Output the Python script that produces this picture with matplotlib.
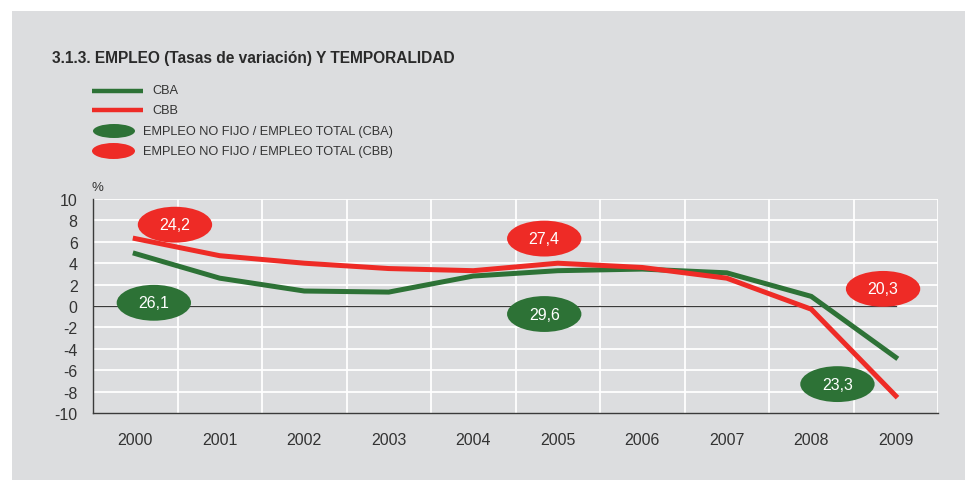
import matplotlib.pyplot as plt
from matplotlib.patches import Ellipse, Rectangle
from matplotlib.lines import Line2D

plt.rcParams['font.family'] = ['Liberation Sans', 'DejaVu Sans']

# Data
years = ['2000', '2001', '2002', '2003', '2004', '2005', '2006', '2007', '2008', '2009']
cba = [4.9, 2.6, 1.4, 1.3, 2.8, 3.3, 3.45, 3.1, 0.9, -4.8]
cbb = [6.3, 4.7, 4.0, 3.5, 3.3, 4.0, 3.6, 2.6, -0.3, -8.4]
# temporality ratios (empleo no fijo / empleo total)
temp_labels = ['24,2', '26,1', '27,4', '29,6', '20,3', '23,3']
temp_series = ['CBB', 'CBA', 'CBB', 'CBA', 'CBB', 'CBA']
temp_x = [0.47, 0.22, 4.84, 4.84, 8.85, 8.31]
temp_y = [7.6, 0.3, 6.3, -0.75, 1.6, -7.3]

GREEN = '#2d7236'
RED = '#ee2b26'
BG = '#dcdddf'
TXT = '#333333'

W, H = 965, 481
fig = plt.figure(figsize=(W / 100, H / 100), dpi=100)
fig.patch.set_facecolor('white')

# overlay for panel + legend in pixel coords
ov = fig.add_axes([0, 0, 1, 1])
ov.set_xlim(0, W)
ov.set_ylim(H, 0)
ov.axis('off')
ov.add_patch(Rectangle((12, 12), W - 12, H - 12, facecolor=BG, edgecolor='none'))
ov.text(52, 59, '3.1.3. EMPLEO (Tasas de variación) Y TEMPORALIDAD', fontsize=11.2,
        fontweight='bold', color='#2a2a2a', va='center')
ov.add_line(Line2D([92, 143], [92, 92], color=GREEN, lw=3.2, solid_capstyle='butt'))
ov.add_line(Line2D([92, 143], [111, 111], color=RED, lw=3.2, solid_capstyle='butt'))
ov.text(152, 91, 'CBA', fontsize=9.2, color=TXT, va='center')
ov.text(152, 111, 'CBB', fontsize=9.2, color=TXT, va='center')
ov.add_patch(Ellipse((114, 132), 42, 14, facecolor=GREEN, edgecolor='none'))
ov.add_patch(Ellipse((113.5, 152), 43, 16, facecolor=RED, edgecolor='none'))
ov.text(143, 132, 'EMPLEO NO FIJO / EMPLEO TOTAL (CBA)', fontsize=9.2, color=TXT, va='center')
ov.text(143, 152, 'EMPLEO NO FIJO / EMPLEO TOTAL (CBB)', fontsize=9.2, color=TXT, va='center')
ov.text(91, 188, '%', fontsize=9.5, color=TXT, va='center')

# main chart
ax = fig.add_axes([93 / W, 1 - 414 / H, (938 - 93) / W, (414 - 200) / H])
ax.set_facecolor(BG)
x = list(range(len(years)))
ax.set_xlim(-0.5, len(years) - 0.5)
ax.set_ylim(-10, 10)
ax.set_yticks(range(-10, 11, 2))
ax.set_yticklabels([str(v) for v in range(-10, 11, 2)])
ax.set_xticks(x)
ax.set_xticklabels(years)
ax.grid(False)
for i in x:
    ax.axvline(i + 0.5, color='white', lw=1.3, zorder=0)
for v in range(-8, 11, 2):
    ax.axhline(v, color='white', lw=1.3, zorder=0)
ax.plot([-0.5, 9], [0, 0], color='#3a3a3a', lw=0.9, zorder=1)
ax.tick_params(axis='both', length=0, labelsize=11.5, labelcolor=TXT)
ax.tick_params(axis='x', pad=14)
ax.tick_params(axis='y', pad=11)
for s in ['top', 'right']:
    ax.spines[s].set_visible(False)
for s in ['left', 'bottom']:
    ax.spines[s].set_color('#3a3a3a')
    ax.spines[s].set_linewidth(1.0)

ax.plot(x, cba, color=GREEN, lw=3.6, zorder=3, solid_joinstyle='miter')
ax.plot(x, cbb, color=RED, lw=3.6, zorder=3, solid_joinstyle='miter')

for lab, ser, ex, ey in zip(temp_labels, temp_series, temp_x, temp_y):
    c = GREEN if ser == 'CBA' else RED
    ax.add_patch(Ellipse((ex, ey), 0.88, 3.35, facecolor=c, edgecolor='none', zorder=4))
    ax.text(ex, ey, lab, color='white', fontsize=11.5, ha='center', va='center', zorder=5)

fig.savefig('out.png', dpi=100)
